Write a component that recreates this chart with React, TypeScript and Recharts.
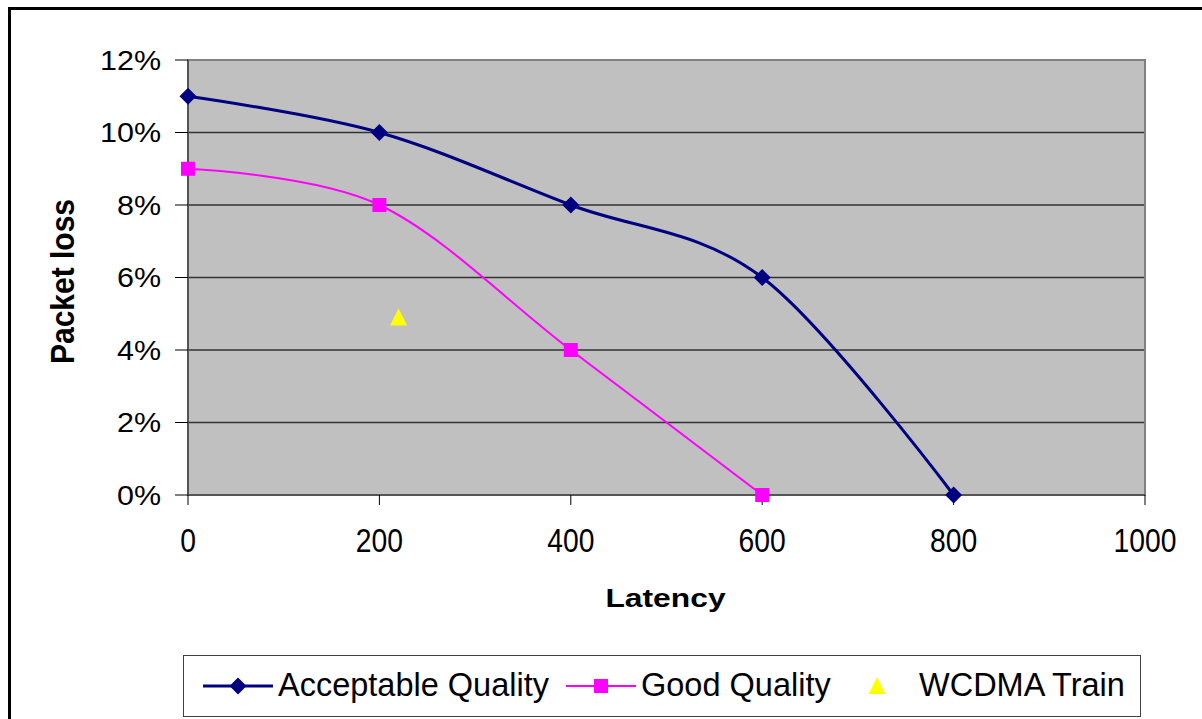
import React from 'react';
import { ComposedChart, Line, Scatter, XAxis, YAxis, CartesianGrid, ReferenceArea } from 'recharts';

// latency (ms) vs packet loss (%)
const acceptableLatency = [0, 200, 400, 600, 800];
const acceptableLoss = [11, 10, 8, 6, 0];
const goodLatency = [0, 200, 400, 600];
const goodLoss = [9, 8, 4, 0];
const trainLatency = [220];
const trainLoss = [4.9];

const seriesNames = ['Acceptable Quality', 'Good Quality', 'WCDMA Train'];
const xTicks = [0, 200, 400, 600, 800, 1000];
const yTicks = [0, 2, 4, 6, 8, 10, 12];

const NAVY = '#000080';
const MAGENTA = '#FF00FF';
const YELLOW = '#FFFF00';
const FONT = '"Liberation Sans", Arial, sans-serif';

const toPoints = (xs: number[], ys: number[]) => xs.map((x, i) => ({ latency: x, loss: ys[i] }));
const acceptable = toPoints(acceptableLatency, acceptableLoss);
const good = toPoints(goodLatency, goodLoss);
const train = toPoints(trainLatency, trainLoss);

// Catmull-Rom style smoothing (cardinal spline, tension 0), like spreadsheet "smoothed line"
function smoothCurve(context: any) {
  const k = 1 / 6;
  let x0 = NaN, x1 = NaN, x2 = NaN, y0 = NaN, y1 = NaN, y2 = NaN;
  let pt = 0;
  let line: number = NaN;
  const seg = (x: number, y: number) => {
    context.bezierCurveTo(x1 + k * (x2 - x0), y1 + k * (y2 - y0), x2 + k * (x1 - x), y2 + k * (y1 - y), x2, y2);
  };
  return {
    areaStart() { line = 0; },
    areaEnd() { line = NaN; },
    lineStart() {
      x0 = x1 = x2 = y0 = y1 = y2 = NaN;
      pt = 0;
    },
    lineEnd() {
      if (pt === 2) context.lineTo(x2, y2);
      else if (pt === 3) seg(x1, y1);
      if (line || (line !== 0 && pt === 1)) context.closePath();
      line = 1 - line;
    },
    point(x: number, y: number) {
      x = +x;
      y = +y;
      if (pt === 0) {
        pt = 1;
        if (line) context.lineTo(x, y);
        else context.moveTo(x, y);
      } else if (pt === 1) {
        pt = 2;
        x1 = x;
        y1 = y;
      } else {
        pt = 3;
        seg(x, y);
      }
      x0 = x1; x1 = x2; x2 = x;
      y0 = y1; y1 = y2; y2 = y;
    },
  };
}

function Diamond(p: any) {
  const { cx, cy, index } = p;
  if (cx == null || cy == null) return null;
  const r = 8.5;
  return (
    <polygon
      key={`d${index}`}
      points={`${cx},${cy - r} ${cx + r},${cy} ${cx},${cy + r} ${cx - r},${cy}`}
      fill={NAVY}
    />
  );
}

function Square(p: any) {
  const { cx, cy, index } = p;
  if (cx == null || cy == null) return null;
  const s = 7;
  return <rect key={`s${index}`} x={cx - s} y={cy - s} width={s * 2} height={s * 2} fill={MAGENTA} />;
}

function Triangle(p: any) {
  const { cx, cy } = p;
  if (cx == null || cy == null) return null;
  return (
    <polygon
      points={`${cx},${cy - 9} ${cx + 8.5},${cy + 8} ${cx - 8.5},${cy + 8}`}
      fill={YELLOW}
    />
  );
}

function YTick(p: any) {
  const { x, y, payload } = p;
  return (
    <text
      transform={`translate(${x},${y}) scale(1.13,1)`}
      x={0}
      y={9.7}
      textAnchor="end"
      fontSize={27}
      fontFamily={FONT}
      fill="#000"
    >
      {`${payload.value}%`}
    </text>
  );
}

function XTick(p: any) {
  const { x, y, payload } = p;
  return (
    <text
      transform={`translate(${x},${y}) scale(0.87,1)`}
      x={0}
      y={47.5}
      textAnchor="middle"
      fontSize={32.5}
      fontFamily={FONT}
      fill="#000"
    >
      {payload.value}
    </text>
  );
}

function XTitle(p: any) {
  const vb = p.viewBox;
  const cx = vb.x + vb.width / 2 - 1;
  return (
    <text
      transform={`translate(${cx},${vb.y + 112}) scale(1.2,1)`}
      textAnchor="middle"
      fontSize={26.5}
      fontWeight="bold"
      fontFamily={FONT}
      fill="#000"
    >
      Latency
    </text>
  );
}

function YTitle(p: any) {
  const vb = p.viewBox;
  const cy = vb.y + vb.height / 2 + 4;
  return (
    <text
      transform={`translate(${vb.x - 34},${cy}) rotate(-90) scale(1,1.13)`}
      textAnchor="middle"
      fontSize={30}
      fontWeight="bold"
      fontFamily={FONT}
      fill="#000"
    >
      Packet loss
    </text>
  );
}

function LegendIcon({ kind }: { kind: number }) {
  if (kind === 2) {
    return (
      <svg width={70} height={30} style={{ display: 'block' }}>
        <polygon points="35,6 43.5,23 26.5,23" fill={YELLOW} />
      </svg>
    );
  }
  const color = kind === 0 ? NAVY : MAGENTA;
  return (
    <svg width={70} height={30} style={{ display: 'block' }}>
      <line x1={0} y1={15} x2={70} y2={15} stroke={color} strokeWidth={kind === 0 ? 3 : 2} />
      {kind === 0 ? (
        <polygon points="35,6.5 43.5,15 35,23.5 26.5,15" fill={NAVY} />
      ) : (
        <rect x={28} y={8} width={14} height={14} fill={MAGENTA} />
      )}
    </svg>
  );
}

const legendSlots = [
  { icon: 203, text: 278 },
  { icon: 566, text: 641 },
  { icon: 842, text: 919 },
];

export default function App() {
  return (
    <div style={{ position: 'absolute', left: 0, top: 0, width: 1202, height: 719, overflow: 'hidden', background: '#fff' }}>
      <div style={{ position: 'absolute', left: 8, top: 7, width: 1300, height: 800, border: '3px solid #000' }} />
      <ComposedChart
        width={1202}
        height={719}
        margin={{ top: 60, right: 57, left: 108, bottom: 114 }}
        style={{ position: 'absolute', left: 0, top: 0 }}
      >
        <CartesianGrid fill="#C0C0C0" stroke="#333" strokeWidth={1.3} vertical={false} />
        <ReferenceArea x1={0} x2={1000} y1={0} y2={12} fill="none" stroke="#808080" strokeWidth={2} />
        <XAxis
          type="number"
          dataKey="latency"
          domain={[0, 1000]}
          ticks={xTicks}
          tick={XTick}
          tickSize={10}
          tickMargin={0}
          axisLine={{ stroke: '#555', strokeWidth: 2 }}
          tickLine={{ stroke: '#000' }}
          height={110}
          label={XTitle}
        />
        <YAxis
          type="number"
          dataKey="loss"
          domain={[0, 12]}
          ticks={yTicks}
          tick={YTick}
          tickSize={13}
          tickMargin={14}
          axisLine={{ stroke: '#555', strokeWidth: 2 }}
          tickLine={{ stroke: '#000' }}
          width={80}
          label={YTitle}
        />
        <Line
          data={good}
          dataKey="loss"
          name={seriesNames[1]}
          type={smoothCurve as any}
          stroke={MAGENTA}
          strokeWidth={2}
          dot={Square}
          activeDot={false}
          isAnimationActive={false}
        />
        <Line
          data={acceptable}
          dataKey="loss"
          name={seriesNames[0]}
          type={smoothCurve as any}
          stroke={NAVY}
          strokeWidth={3}
          dot={Diamond}
          activeDot={false}
          isAnimationActive={false}
        />
        <Scatter data={train} dataKey="loss" name={seriesNames[2]} shape={Triangle} isAnimationActive={false} />
      </ComposedChart>
      <div
        style={{
          position: 'absolute', left: 183, top: 655, width: 956, height: 60,
          border: '1px solid #404040', background: '#fff', fontFamily: FONT, fontSize: 32.5,
        }}
      >
        {seriesNames.map((name, i) => (
          <React.Fragment key={name}>
            <div style={{ position: 'absolute', left: legendSlots[i].icon - 184, top: 15 }}>
              <LegendIcon kind={i} />
            </div>
            <div style={{ position: 'absolute', left: legendSlots[i].text - 184, top: 10, lineHeight: '38px', whiteSpace: 'nowrap' }}>
              {name}
            </div>
          </React.Fragment>
        ))}
      </div>
    </div>
  );
}
